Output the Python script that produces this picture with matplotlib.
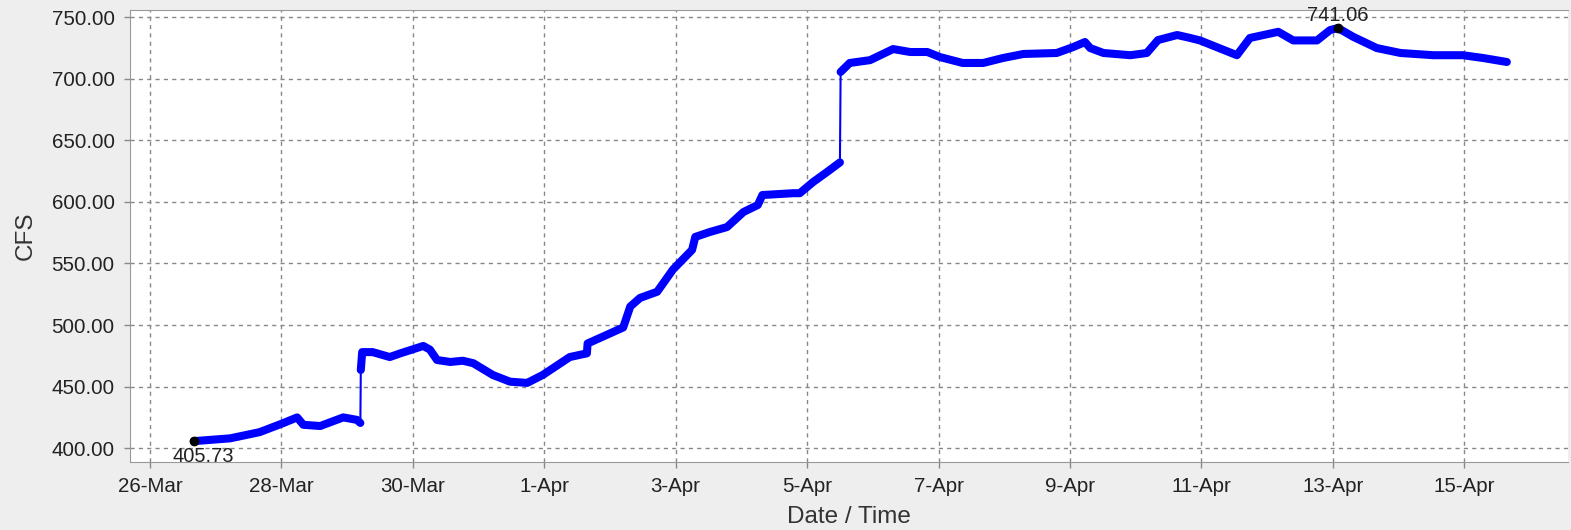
import numpy as np
import pandas as pd
import matplotlib
matplotlib.use("Agg")
import matplotlib.pyplot as plt
import matplotlib.dates as mdates
from matplotlib.ticker import FuncFormatter

# flow readings
times = [
    "2019-03-26 16:00", "2019-03-27 05:15", "2019-03-27 16:00", "2019-03-28 00:15",
    "2019-03-28 05:45", "2019-03-28 08:00", "2019-03-28 14:10", "2019-03-28 22:35",
    "2019-03-29 03:35", "2019-03-29 04:50", "2019-03-29 05:00", "2019-03-29 05:30",
    "2019-03-29 09:20", "2019-03-29 15:35", "2019-03-29 19:25", "2019-03-30 03:50",
    "2019-03-30 06:15", "2019-03-30 08:50", "2019-03-30 13:40", "2019-03-30 18:15",
    "2019-03-30 22:05", "2019-03-31 05:15", "2019-03-31 11:30", "2019-03-31 17:45",
    "2019-03-31 23:30", "2019-04-01 09:20", "2019-04-01 15:35", "2019-04-01 15:50",
    "2019-04-02 04:50", "2019-04-02 07:25", "2019-04-02 11:00", "2019-04-02 17:15",
    "2019-04-02 23:00", "2019-04-03 06:00", "2019-04-03 07:10", "2019-04-03 12:30",
    "2019-04-03 18:45", "2019-04-04 00:45", "2019-04-04 06:00", "2019-04-04 07:40",
    "2019-04-04 19:00", "2019-04-04 21:20", "2019-04-05 02:10", "2019-04-05 07:10",
    "2019-04-05 12:00", "2019-04-05 12:15", "2019-04-05 15:35", "2019-04-05 23:00",
    "2019-04-06 07:25", "2019-04-06 13:40", "2019-04-06 19:55", "2019-04-07 00:30",
    "2019-04-07 08:50", "2019-04-07 16:20", "2019-04-07 23:30", "2019-04-08 07:00",
    "2019-04-08 19:10", "2019-04-09 01:10", "2019-04-09 05:30", "2019-04-09 07:25",
    "2019-04-09 12:15", "2019-04-09 22:05", "2019-04-10 04:05", "2019-04-10 08:10",
    "2019-04-10 15:10", "2019-04-10 19:55", "2019-04-10 23:30", "2019-04-11 13:00",
    "2019-04-11 17:45", "2019-04-12 04:05", "2019-04-12 09:35", "2019-04-12 18:15",
    "2019-04-12 23:00", "2019-04-13 01:55", "2019-04-13 07:25", "2019-04-13 16:05",
    "2019-04-14 00:45", "2019-04-14 12:45", "2019-04-14 23:30", "2019-04-15 07:00",
    "2019-04-15 15:35",
]
cfs = [
    405.73, 408.0, 413.0, 420.0,
    425.0, 419.0, 418.0, 425.0,
    423.0, 420.5, 463.5, 478.0,
    478.0, 474.0, 477.0, 483.0,
    480.0, 471.6, 470.0, 471.0,
    469.0, 459.4, 454.0, 453.0,
    459.5, 474.0, 477.0, 485.0,
    498.0, 515.0, 522.0, 527.0,
    545.0, 561.0, 571.5, 575.5,
    579.5, 591.7, 597.4, 605.5,
    607.0, 607.0, 616.0, 624.0,
    632.0, 705.4, 712.7, 715.0,
    724.0, 721.6, 721.6, 717.5,
    712.7, 712.7, 716.7, 720.0,
    720.8, 725.6, 729.7, 724.8,
    720.8, 719.0, 720.8, 731.3,
    735.4, 733.0, 731.0, 719.0,
    733.0, 738.0, 731.0, 731.0,
    739.4, 741.06, 734.0, 724.8,
    720.8, 719.0, 719.0, 716.7,
    713.5,
]
tick_dates = pd.date_range("2019-03-26", "2019-04-16", freq="2D")
y_ticks = [400, 450, 500, 550, 600, 650, 700, 750]

t = pd.to_datetime(times)
v = np.array(cfs)

# thick trace, broken where the gauge jumps (those stretches are drawn thin)
tx, ty = [t[0]], [v[0]]
for i in range(1, len(v)):
    if abs(v[i] - v[i - 1]) > 25:
        tx.append(t[i - 1] + (t[i] - t[i - 1]) / 2)
        ty.append(np.nan)
    tx.append(t[i])
    ty.append(v[i])

plt.rcParams["font.family"] = ["Liberation Sans", "DejaVu Sans"]
fig = plt.figure(figsize=(15.71, 5.30), dpi=100, facecolor="#eeeeee")
ax = fig.add_axes([130 / 1571, 1 - 462 / 530, (1568 - 130) / 1571, (462 - 10) / 530])
ax.set_facecolor("white")

ax.plot(t, v, color="#0000ff", lw=1.5, zorder=3)
ax.plot(tx, ty, color="#0000ff", lw=5.8, solid_capstyle="round",
        solid_joinstyle="round", zorder=4)

imin, imax = int(np.argmin(v)), int(np.argmax(v))
ax.plot([t[imin], t[imax]], [v[imin], v[imax]], "o", color="black",
        markersize=6, zorder=5)
ax.annotate(f"{v[imin]:.2f}", (t[imin], v[imin]), xytext=(7, -4),
            textcoords="offset points", ha="center", va="top",
            fontsize=14.5, color="#222222", zorder=6)
ax.annotate(f"{v[imax]:.2f}", (t[imax], v[imax]), xytext=(0, 2),
            textcoords="offset points", ha="center", va="bottom",
            fontsize=14.5, color="#222222", zorder=6)

ax.set_xticks(tick_dates)
ax.xaxis.set_major_formatter(FuncFormatter(
    lambda x, pos: f"{mdates.num2date(x).day}-{mdates.num2date(x).strftime('%b')}"))
ax.set_yticks(y_ticks)
ax.yaxis.set_major_formatter(FuncFormatter(lambda y, pos: f"{y:.2f}"))
ax.set_xlim(pd.Timestamp("2019-03-26") - pd.Timedelta(hours=7.3),
            pd.Timestamp("2019-03-26") + pd.Timedelta(days=21.58))
ax.set_ylim(388.8, 755.7)

ax.grid(True, color="#888888", lw=1, linestyle=(0, (3, 3)))
ax.tick_params(direction="out", length=4, width=1, color="#888888",
               labelsize=14.8, labelcolor="#222222", pad=7)

for side in ["left", "bottom", "top"]:
    ax.spines[side].set_color("#999999")
ax.spines["right"].set_visible(False)

ax.set_xlabel("Date / Time", fontsize=17.5, color="#333333", labelpad=7)
ax.set_ylabel("CFS", fontsize=17.5, color="#333333", labelpad=11)

plt.savefig("out.png", dpi=100, facecolor=fig.get_facecolor())
plt.close("all")
